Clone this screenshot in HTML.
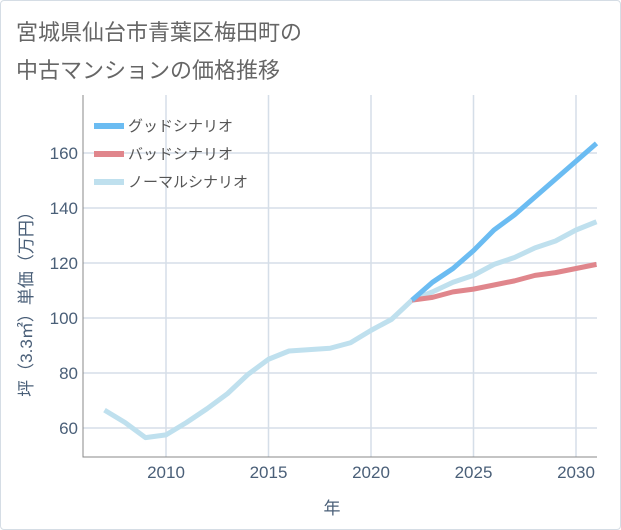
<!DOCTYPE html>
<html><head><meta charset="utf-8"><style>
body{margin:0;background:#fff;}
.frame{position:absolute;left:0;top:0;width:619px;height:528px;border:1px solid #d5dde5;border-radius:4px;background:#fff;}
.title{position:absolute;left:16px;top:14px;font:22px "Liberation Sans","Noto Sans CJK JP",sans-serif;color:#666;line-height:38px;}
svg text{font-family:"Liberation Sans","Noto Sans CJK JP",sans-serif;}
</style></head><body>
<div class="frame"></div>
<div class="title">宮城県仙台市青葉区梅田町の<br>中古マンションの価格推移</div>
<svg id="chart" width="621" height="530" style="position:absolute;left:0;top:0"></svg>
<script>
const years=[2007,2008,2009,2010,2011,2012,2013,2014,2015,2016,2017,2018,2019,2020,2021,2022,2023,2024,2025,2026,2027,2028,2029,2030,2031];
const normalVals=[66.5,62,56.5,57.5,62,67,72.5,79.5,85,88,88.5,89,91,95.5,99.5,106.5,109.5,113,115.5,119.5,122,125.5,128,132,135];
const futureYears=[2022,2023,2024,2025,2026,2027,2028,2029,2030,2031];
const goodVals=[106.5,113,118,124.5,132,137.5,144,150.5,157,163.5];
const badVals=[106.5,107.5,109.5,110.5,112,113.5,115.5,116.5,118,119.5];
const xTicks=[2010,2015,2020,2025,2030];
const yTicks=[60,80,100,120,140,160];
const legendLabels=["グッドシナリオ","バッドシナリオ","ノーマルシナリオ"];
const colors=["#6bbcf2","#e0868c","#bfe0ee"];
const L=83,R=597,T=95,B=457;
const x=y=>166+(y-2010)*20.5;
const yv=v=>428-(v-60)*2.75;
const svg=document.getElementById('chart');
const NS='http://www.w3.org/2000/svg';
function mk(t,a){const e=document.createElementNS(NS,t);for(const k in a)e.setAttribute(k,a[k]);svg.appendChild(e);return e;}
xTicks.forEach(t=>{
 const g=mk('line',{x1:x(t),x2:x(t),y1:T,y2:B,stroke:'#d5dee8','stroke-width':1.5});
 
 
 const l=mk('text',{x:x(t),y:478,'text-anchor':'middle','font-size':17,fill:'#4a5f78'});l.textContent=t;
 
 
});
yTicks.forEach(t=>{
 const g=mk('line',{x1:L,x2:R,y1:yv(t),y2:yv(t),stroke:'#d5dee8','stroke-width':1.5});
 
 
 const l=mk('text',{x:78,y:yv(t)+6,'text-anchor':'end','font-size':17,fill:'#4a5f78'});l.textContent=t;
 
 
});
const ax=mk('path',{d:`M${L} ${T}V${B}H${R}`,fill:'none',stroke:'#888','stroke-width':1});


function line(xs,vs,c,name){
 const p=mk('polyline',{points:xs.map((t,i)=>x(t)+','+yv(vs[i])).join(' '),fill:'none',stroke:c,'stroke-width':5,'stroke-linejoin':'round','stroke-linecap':'butt'});
 
 
}
line(years,normalVals,colors[2],'normal-series');
line(futureYears,badVals,colors[1],'bad-series');
line(futureYears,goodVals,colors[0],'good-series');
legendLabels.forEach((s,i)=>{
 const yy=126+i*28;
 const r=mk('rect',{x:94,y:yy-3,width:30,height:6,fill:colors[i]});
 
 
 const t=mk('text',{x:128,y:yy+5,'font-size':15,fill:'#555'});t.textContent=s;
 
 
});
const xt=mk('text',{x:332,y:514,'text-anchor':'middle','font-size':17,fill:'#4a5f78'});xt.textContent='年';


const yt=mk('text',{x:0,y:0,'text-anchor':'middle','font-size':17,fill:'#4a5f78',transform:'translate(32,300) rotate(-90)'});yt.textContent='坪（3.3㎡）単価（万円）';


</script>
</body></html>
